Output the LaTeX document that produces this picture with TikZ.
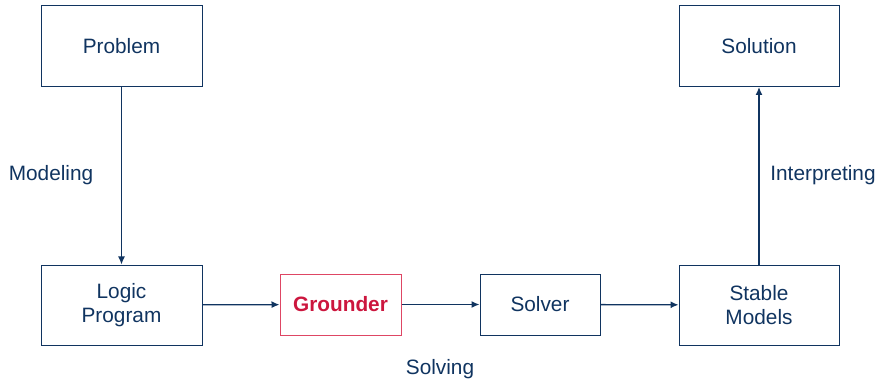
\documentclass[tikz,border=0pt]{standalone}
\usepackage{fontspec}
\setmainfont{Liberation Sans}
\usetikzlibrary{arrows.meta}
\definecolor{dblue}{RGB}{16,52,96}
\definecolor{dred}{RGB}{204,22,62}
\definecolor{lred}{RGB}{222,70,100}
\begin{document}
\begin{tikzpicture}[x=1pt,y=-1pt,
  box/.style={draw=dblue,line width=1pt,text=dblue,inner sep=0pt,align=center,
    font=\fontsize{20.8}{24}\selectfont},
  lbl/.style={text=dblue,inner sep=0pt,font=\fontsize{20.8}{24}\selectfont},
  conn/.style={draw=dblue,line width=1.3pt,-{Latex[length=8pt,width=7pt]}}]
\useasboundingbox (0,0) rectangle (880,379);
\node[box,minimum width=161pt,minimum height=81pt] (prob) at (121.5,46) {Problem};
\node[box,minimum width=161pt,minimum height=80pt] (lp) at (121.5,305) {Logic\\Program};
\node[box,draw=lred,text=dred,font=\fontsize{20.8}{24}\selectfont\bfseries,minimum width=121pt,minimum height=61pt] (gr) at (340.5,304.5) {Grounder};
\node[box,minimum width=120pt,minimum height=61pt] (sol) at (540,304.5) {Solver};
\node[box,minimum width=160pt,minimum height=80pt] (sm) at (759,305) {Stable\\Models};
\node[box,minimum width=160pt,minimum height=81pt] (res) at (759,46) {Solution};
\node[lbl] (mod) at (51,175) {Modeling};
\node[lbl] (int) at (823,175) {Interpreting};
\node[lbl] (solv) at (440,369) {Solving};
\draw[conn] (prob) -- (lp);
\draw[conn] (lp) -- (gr);
\draw[conn] (gr) -- (sol);
\draw[conn] (sol) -- (sm);
\draw[conn] (sm) -- (res);
\end{tikzpicture}
\end{document}
